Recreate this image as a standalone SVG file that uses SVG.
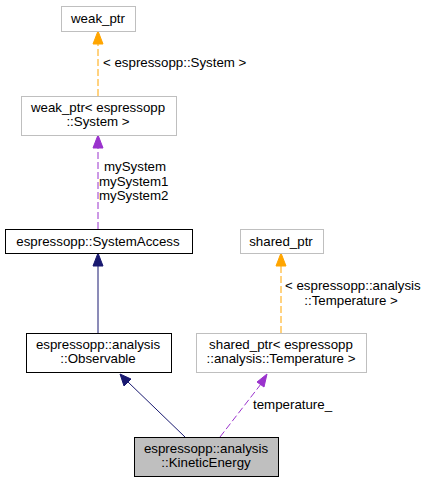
<svg xmlns="http://www.w3.org/2000/svg" width="427" height="483" viewBox="0 0 427 483">
<style>
text{font-family:"Liberation Sans",Arial,sans-serif;font-size:13.3px;fill:#000}
.c{text-anchor:middle}
.box{fill:#fff;stroke:#000;stroke-width:1}
.gbox{fill:#fff;stroke:#bfbfbf;stroke-width:1}
.cur{fill:#bfbfbf;stroke:#000;stroke-width:1}
.nav{stroke:#191970;stroke-width:1;fill:none}
.pur{stroke:#9a32cd;stroke-width:1;fill:none;stroke-dasharray:7,3}
.org{stroke:#ffa500;stroke-width:1;fill:none;stroke-dasharray:7,3}
</style>
<rect width="427" height="483" fill="#fff"/>
<g id="connectors">
<line class="org" x1="98" y1="96" x2="98" y2="43"/>
<polygon points="98,31 93,44 103,44" fill="#ffa500" stroke="#ffa500"/>
<text x="103" y="67">&lt; espressopp::System &gt;</text>
<line class="pur" x1="98" y1="229" x2="98" y2="147"/>
<polygon points="98,135 93,148 103,148" fill="#9a32cd" stroke="#9a32cd"/>
<text x="104" y="171">mySystem</text>
<text x="99" y="186">mySystem1</text>
<text x="99" y="200">mySystem2</text>
<line class="nav" x1="98" y1="333" x2="98" y2="265"/>
<polygon points="98,253 93,266 103,266" fill="#191970" stroke="#191970"/>
<line class="nav" x1="185" y1="437" x2="128" y2="382"/>
<polygon points="120,374 124,386 131,379" fill="#191970" stroke="#191970"/>
<line class="org" x1="281" y1="333" x2="281" y2="265"/>
<polygon points="281,253 276,266 286,266" fill="#ffa500" stroke="#ffa500"/>
<text x="285" y="290">&lt; espressopp::analysis</text>
<text x="351" y="305" class="c">::Temperature &gt;</text>
<line class="pur" x1="220" y1="437" x2="261" y2="384"/>
<polygon points="267,374 257,382 264,387" fill="#9a32cd" stroke="#9a32cd"/>
<text x="253" y="409">temperature_</text>
</g>
<g id="weak_ptr">
<rect class="gbox" x="61.5" y="6.5" width="74" height="25"/>
<text x="98" y="23" class="c">weak_ptr</text>
</g>
<g id="weak_ptr_system">
<rect class="gbox" x="21.5" y="96.5" width="155" height="39"/>
<text x="98" y="112" class="c">weak_ptr&lt; espressopp</text>
<text x="98" y="126" class="c">::System &gt;</text>
</g>
<g id="system_access">
<rect class="box" x="5.5" y="229.5" width="187" height="24"/>
<text x="98" y="246" class="c">espressopp::SystemAccess</text>
</g>
<g id="shared_ptr">
<rect class="gbox" x="240.5" y="229.5" width="83" height="24"/>
<text x="281" y="246" class="c">shared_ptr</text>
</g>
<g id="observable">
<rect class="box" x="26.5" y="333.5" width="145" height="39"/>
<text x="98" y="349" class="c">espressopp::analysis</text>
<text x="98" y="363" class="c">::Observable</text>
</g>
<g id="shared_ptr_temperature">
<rect class="gbox" x="196.5" y="333.5" width="170" height="39"/>
<text x="281" y="349" class="c">shared_ptr&lt; espressopp</text>
<text x="281" y="363" class="c">::analysis::Temperature &gt;</text>
</g>
<g id="kinetic_energy">
<rect class="cur" x="134.5" y="437.5" width="144" height="39"/>
<text x="206" y="453" class="c">espressopp::analysis</text>
<text x="206" y="467" class="c">::KineticEnergy</text>
</g>
</svg>
